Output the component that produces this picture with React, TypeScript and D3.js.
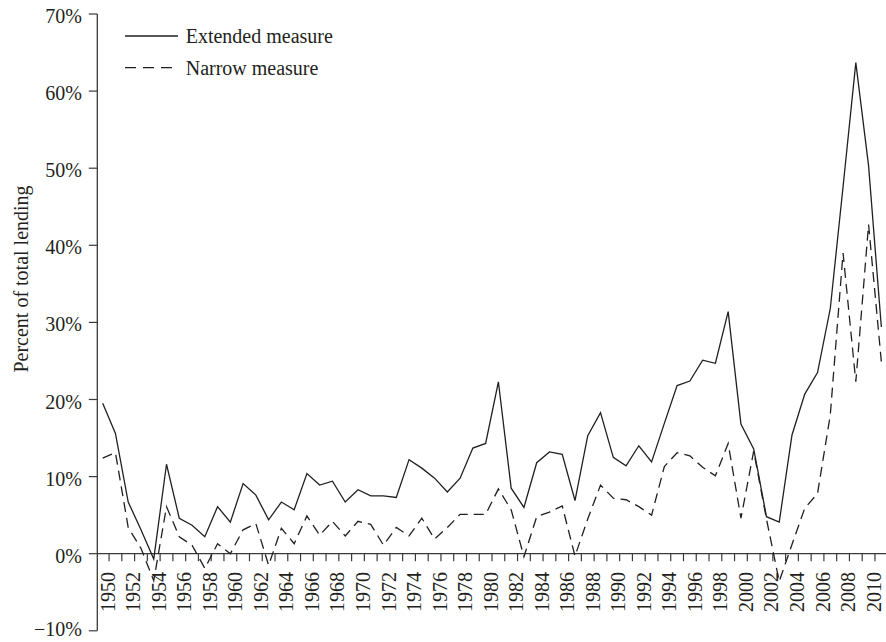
import React from 'react';
import * as d3 from 'd3';

const WIDTH = 886;
const HEIGHT = 642;
const INK = '#231f20';
const FONT = '"Liberation Serif", "Times New Roman", serif';

const years = [
    1950, 1951, 1952, 1953, 1954, 1955, 1956, 1957, 1958, 1959,
    1960, 1961, 1962, 1963, 1964, 1965, 1966, 1967, 1968, 1969,
    1970, 1971, 1972, 1973, 1974, 1975, 1976, 1977, 1978, 1979,
    1980, 1981, 1982, 1983, 1984, 1985, 1986, 1987, 1988, 1989,
    1990, 1991, 1992, 1993, 1994, 1995, 1996, 1997, 1998, 1999,
    2000, 2001, 2002, 2003, 2004, 2005, 2006, 2007, 2008, 2009,
    2010, 2011,
];

// percent of total lending
const extended = [
    19.5, 15.6, 6.7, 3.1, -0.7, 11.6, 4.6, 3.7, 2.2, 6.1,
    4.1, 9.1, 7.6, 4.4, 6.7, 5.7, 10.4, 8.9, 9.4, 6.7,
    8.3, 7.5, 7.5, 7.3, 12.2, 11.1, 9.8, 8.0, 9.8, 13.7,
    14.3, 22.3, 8.5, 6.0, 11.8, 13.2, 12.9, 6.9, 15.3, 18.3,
    12.5, 11.4, 14.0, 11.9, 16.9, 21.8, 22.4, 25.1, 24.7, 31.4,
    16.8, 13.6, 4.8, 4.1, 15.4, 20.7, 23.5, 31.8, 47.6, 63.7,
    50.3, 29.4,
];

const narrow = [
    12.4, 13.1, 3.4, 0.7, -3.5, 6.1, 2.2, 1.1, -1.9, 1.3,
    0.0, 3.1, 3.9, -1.5, 3.3, 1.3, 4.9, 2.4, 4.2, 2.3,
    4.2, 3.8, 1.1, 3.4, 2.3, 4.6, 1.9, 3.4, 5.1, 5.1,
    5.1, 8.4, 5.7, -0.4, 4.8, 5.4, 6.2, -0.3, 4.5, 8.9,
    7.2, 7.0, 6.1, 5.0, 11.3, 13.1, 12.7, 11.2, 10.1, 14.3,
    4.6, 13.3, 4.5, -3.6, 1.2, 5.9, 7.8, 18.0, 39.0, 22.3,
    42.7, 24.9,
];

const yTicks = [-10, 0, 10, 20, 30, 40, 50, 60, 70];
const yearLabels = years.filter(y => y % 2 === 0 && y <= 2010);

const legendItems = [
    {label: 'Extended measure', dash: undefined as string | undefined},
    {label: 'Narrow measure', dash: '11,7'},
];

const App = () => {
    const axisX = 97.3;
    const xScale = d3.scaleBand<number>()
        .domain(years)
        .range([96.3, 96.3 + years.length * 12.765])
        .padding(0);
    const half = xScale.bandwidth() / 2;
    const cx = (y: number) => (xScale(y) ?? 0) + half;

    const yScale = d3.scaleLinear().domain([-10, 70]).range([630.8, 14]);
    const zeroY = yScale(0);

    const line = d3.line<number>()
        .x((_, i) => cx(years[i]))
        .y(d => yScale(d));

    return (
        <svg width={WIDTH} height={HEIGHT}
             style={{position: 'absolute', left: 0, top: 0, background: '#fff'}}
             fontFamily={FONT} fill={INK}>
            {/* y axis */}
            <line x1={axisX} x2={axisX} y1={yScale(70)} y2={yScale(-10)} stroke="#3a3a3a" strokeWidth={1.3}/>
            {yTicks.map(t => (
                <g key={t}>
                    <line x1={axisX - 8.5} x2={axisX} y1={yScale(t)} y2={yScale(t)} stroke="#3a3a3a" strokeWidth={1.2}/>
                    <text x={82} y={Math.min(yScale(t) + 9, 636)} textAnchor="end" fontSize={20}>
                        {t < 0 ? `\u2212${Math.abs(t)}%` : `${t}%`}
                    </text>
                </g>
            ))}
            <text transform={`translate(28,279) rotate(-90)`} textAnchor="middle" fontSize={20}>
                Percent of total lending
            </text>

            {/* x axis on zero line */}
            <line x1={axisX} x2={WIDTH + 2} y1={zeroY} y2={zeroY} stroke="#3a3a3a" strokeWidth={1.3}/>
            {years.slice(1).map(y => (
                <line key={y} x1={xScale(y)} x2={xScale(y)} y1={zeroY} y2={zeroY + 7.5}
                      stroke="#3a3a3a" strokeWidth={1.2}/>
            ))}
            {yearLabels.map(y => (
                <text key={y} transform={`translate(${cx(y) + 12},572) rotate(-90)`}
                      textAnchor="end" fontSize={20}>
                    {y}
                </text>
            ))}

            {/* series */}
            <path d={line(extended) ?? ''} fill="none" stroke={INK} strokeWidth={1.3}/>
            <path d={line(narrow) ?? ''} fill="none" stroke={INK} strokeWidth={1.3} strokeDasharray="10,6"/>

            {/* legend */}
            {legendItems.map((item, i) => (
                <g key={item.label} transform={`translate(125,${36 + i * 31.7})`}>
                    <line x1={0} x2={53} y1={0} y2={0} stroke={INK} strokeWidth={1.3}
                          strokeDasharray={item.dash}/>
                    <text x={60.7} y={7.3} fontSize={20}>{item.label}</text>
                </g>
            ))}
        </svg>
    );
};

export default App;
